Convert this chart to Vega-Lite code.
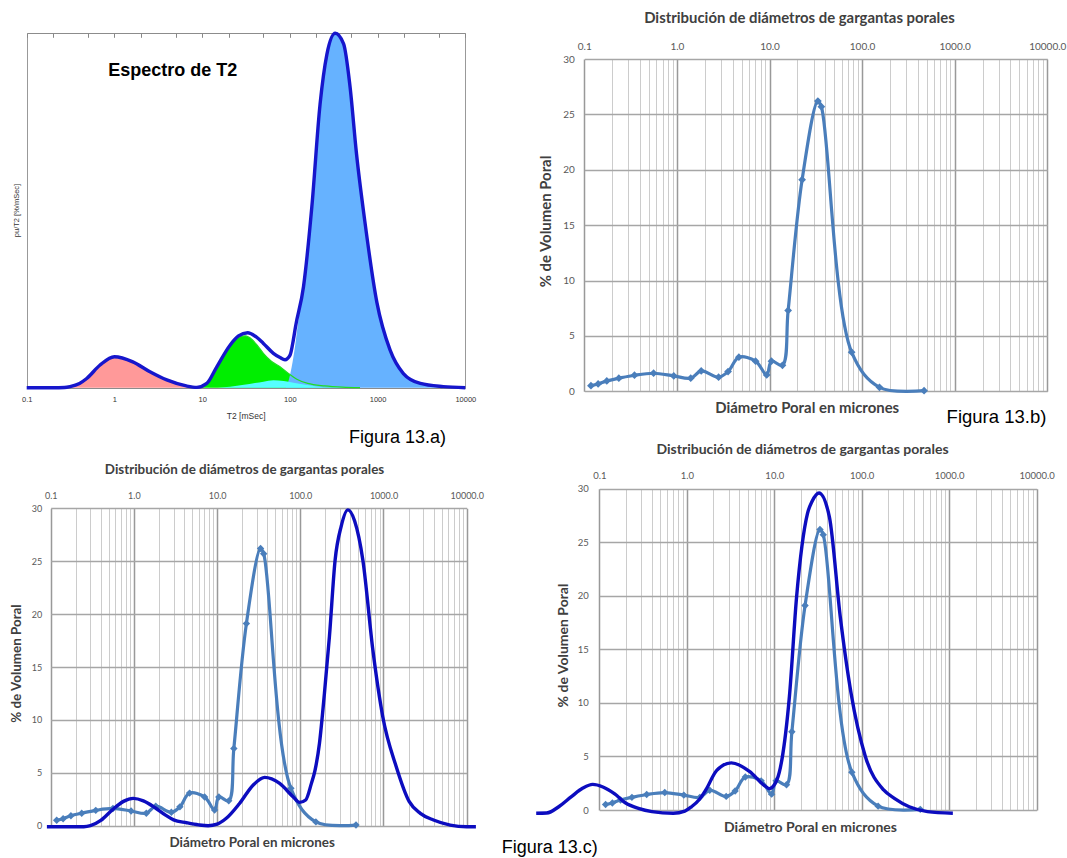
{
"$schema": "https://vega.github.io/schema/vega-lite/v6.json",
"width": 1067, "height": 858, "autosize": "none", "padding": 0,
"background": "#ffffff",
"config": {"view": {"stroke": null}, "font": "Lato"},
"datasets": {
"micp": [{"d":0.118,"v":0.51},{"d":0.141,"v":0.66},{"d":0.175,"v":0.94},{"d":0.236,"v":1.18},{"d":0.348,"v":1.45},{"d":0.56,"v":1.63},{"d":0.925,"v":1.39},{"d":1.41,"v":1.18},{"d":1.83,"v":1.84},{"d":2.82,"v":1.27},{"d":3.57,"v":1.78},{"d":4.67,"v":3.08},{"d":7.08,"v":2.72},{"d":9.33,"v":1.48},{"d":10.5,"v":2.72},{"d":13.8,"v":2.35},{"d":15.9,"v":7.3},{"d":22.5,"v":19.1},{"d":33.3,"v":26.2},{"d":36.3,"v":25.7},{"d":77.1,"v":3.53},{"d":154,"v":0.36},{"d":467,"v":0.06}],
"t2c": [{"d":0.09,"v":-0.1},{"d":0.15,"v":-0.1},{"d":0.25,"v":-0.1},{"d":0.3,"v":0.0},{"d":0.4,"v":0.5},{"d":0.55,"v":1.5},{"d":0.75,"v":2.3},{"d":0.98,"v":2.58},{"d":1.3,"v":2.35},{"d":1.8,"v":1.7},{"d":2.4,"v":1.0},{"d":3.0,"v":0.55},{"d":4.3,"v":0.28},{"d":6.0,"v":0.08},{"d":7.8,"v":0.0},{"d":10,"v":0.15},{"d":12.9,"v":0.7},{"d":18.6,"v":2.1},{"d":27.2,"v":3.85},{"d":37.3,"v":4.57},{"d":56.5,"v":4.0},{"d":81.7,"v":2.74},{"d":98,"v":2.2},{"d":116,"v":2.43},{"d":136,"v":4.0},{"d":150,"v":5.2},{"d":170,"v":7.8},{"d":195,"v":12.5},{"d":224,"v":17.9},{"d":262,"v":25.1},{"d":310,"v":28.3},{"d":373,"v":29.85},{"d":450,"v":28.8},{"d":565,"v":25.1},{"d":745,"v":16.6},{"d":980,"v":10.3},{"d":1420,"v":5.6},{"d":2040,"v":2.27},{"d":2770,"v":1.17},{"d":3990,"v":0.54},{"d":6330,"v":0.06},{"d":10000,"v":-0.1},{"d":12900,"v":-0.1}],
"t2d": [{"d":0.019,"v":-0.3},{"d":0.025,"v":-0.28},{"d":0.035,"v":0.35},{"d":0.048,"v":1.25},{"d":0.065,"v":2.05},{"d":0.084,"v":2.39},{"d":0.11,"v":2.15},{"d":0.15,"v":1.5},{"d":0.2,"v":0.65},{"d":0.28,"v":0.15},{"d":0.4,"v":-0.15},{"d":0.7,"v":-0.3},{"d":0.95,"v":-0.1},{"d":1.13,"v":0.3},{"d":1.4,"v":1.0},{"d":1.65,"v":1.87},{"d":2.2,"v":3.7},{"d":3.23,"v":4.4},{"d":5.2,"v":3.6},{"d":7.6,"v":2.33},{"d":8.8,"v":2.0},{"d":10.7,"v":2.8},{"d":12.2,"v":4.66},{"d":14.9,"v":10.6},{"d":18.0,"v":19.9},{"d":24,"v":27.7},{"d":27,"v":28.8},{"d":32.5,"v":29.6},{"d":42.6,"v":27.4},{"d":56.9,"v":18.0},{"d":75.5,"v":10.9},{"d":110,"v":5.0},{"d":178,"v":1.87},{"d":236,"v":1.09},{"d":349,"v":0.3},{"d":564,"v":-0.15},{"d":1100,"v":-0.3}],
"t2total": [{"t":0.1,"a":0},{"t":0.2,"a":0},{"t":0.27,"a":0.05},{"t":0.312,"a":0.3},{"t":0.4,"a":1.2},{"t":0.483,"a":2.6},{"t":0.686,"a":6.4},{"t":1.0,"a":8.75},{"t":1.62,"a":7.3},{"t":2.54,"a":4.5},{"t":3.95,"a":2.2},{"t":6.6,"a":0.5},{"t":8.7,"a":0.1},{"t":11.3,"a":1.2},{"t":14.7,"a":5.9},{"t":20.8,"a":12.0},{"t":26,"a":14.6},{"t":33,"a":15.5},{"t":41,"a":14.4},{"t":49.9,"a":12.5},{"t":64.9,"a":9.7},{"t":77.3,"a":8.5},{"t":88,"a":7.9},{"t":100.5,"a":9.2},{"t":109.6,"a":13.5},{"t":116,"a":17.2},{"t":143,"a":28.5},{"t":178,"a":51},{"t":221,"a":80},{"t":264,"a":94},{"t":329,"a":100},{"t":410,"a":97},{"t":485,"a":85},{"t":575,"a":66},{"t":715,"a":47},{"t":983,"a":24},{"t":1390,"a":10.6},{"t":1970,"a":4.0},{"t":3070,"a":1.2},{"t":5600,"a":0.3},{"t":10000,"a":0}],
"t2pink": [{"t":0.25,"a":0},{"t":0.27,"a":0.05},{"t":0.312,"a":0.3},{"t":0.4,"a":1.2},{"t":0.483,"a":2.6},{"t":0.686,"a":6.4},{"t":1.0,"a":8.75},{"t":1.62,"a":7.3},{"t":2.54,"a":4.5},{"t":3.95,"a":2.2},{"t":6.6,"a":0.5},{"t":8.7,"a":0.1},{"t":9.5,"a":0}],
"t2green": [{"t":8.7,"a":0.05},{"t":11.3,"a":1.2},{"t":14.7,"a":5.9},{"t":20.8,"a":12.0},{"t":26,"a":14.2},{"t":31,"a":14.6},{"t":37,"a":13.6},{"t":43,"a":11.8},{"t":49.9,"a":9.7},{"t":62,"a":7.4},{"t":77.3,"a":5.9},{"t":95.5,"a":4.1},{"t":120,"a":2.4},{"t":160,"a":1.2},{"t":250,"a":0.5},{"t":400,"a":0.15},{"t":630,"a":0}],
"t2cyan": [{"t":15,"a":0},{"t":20.8,"a":0.3},{"t":30,"a":0.8},{"t":40,"a":1.3},{"t":50,"a":1.7},{"t":65,"a":2.1},{"t":85,"a":1.9},{"t":110,"a":1.4},{"t":150,"a":0.8},{"t":200,"a":0.35},{"t":290,"a":0.05},{"t":400,"a":0}],
"t2blue": [{"t":90,"a":0},{"t":96,"a":1.7},{"t":105,"a":5.9},{"t":114.5,"a":11.6},{"t":125,"a":19.1},{"t":135,"a":24.8},{"t":143,"a":28.5},{"t":178,"a":51},{"t":221,"a":80},{"t":264,"a":94},{"t":329,"a":100},{"t":410,"a":97},{"t":485,"a":85},{"t":575,"a":66},{"t":715,"a":47},{"t":983,"a":24},{"t":1390,"a":10.6},{"t":1970,"a":4.0},{"t":3070,"a":1.2},{"t":5600,"a":0.3},{"t":10000,"a":0}]
},
"layer": [
{
"layer": [
{"data": {"name": "t2pink"}, "mark": {"type": "area", "interpolate": "monotone", "color": "#ff9999"},
 "encoding": {
  "x": {"field": "t", "type": "quantitative", "scale": {"type": "log", "domain": [0.1, 10000], "range": [26.7, 465.3], "nice": false},
   "axis": {"orient": "top", "offset": -33.3, "values": [0.1,0.2,0.5,1,2,5,10,20,50,100,200,500,1000,2000,5000,10000], "labels": false, "domain": false, "ticks": true, "tickSize": -4, "tickColor": "#888888", "grid": true, "gridColor": "#999999", "gridOpacity": {"condition": {"test": "datum.value < 0.11 || datum.value > 9000", "value": 1}, "value": 0}, "title": null}},
  "y": {"field": "a", "type": "quantitative", "scale": {"domain": [0, 100], "range": [387.7, 33.3], "nice": false, "zero": false},
   "axis": {"orient": "left", "offset": -26.7, "values": [0, 100], "labels": false, "ticks": false, "domain": false, "grid": true, "gridColor": "#8c8c8c", "title": "pu/T2 [%/mSec]", "titleFont": "Liberation Sans", "titleFontSize": 7.5, "titleFontWeight": "normal", "titleColor": "#333333", "titleX": -10, "titleY": 210, "titleAngle": -90, "titleAlign": "center", "titleBaseline": "middle"}}
 }},
{"data": {"name": "t2green"}, "mark": {"type": "area", "interpolate": "monotone", "color": "#00ee00"},
 "encoding": {
  "x": {"field": "t", "type": "quantitative", "scale": {"type": "log", "domain": [0.1, 10000], "range": [26.7, 465.3], "nice": false},
   "axis": {"orient": "bottom", "offset": -470.3, "values": [0.1,1,10,100,1000,10000], "labelExpr": "datum.value < 1 ? '0.1' : format(datum.value, 'd')", "labelFont": "Liberation Sans", "labelFontSize": 7.5, "labelColor": "#333333", "labelPadding": 8, "labelFlush": false, "labelOverlap": false, "ticks": false, "domain": false, "grid": false, "title": "T2 [mSec]", "titleFont": "Liberation Sans", "titleFontSize": 8.5, "titleFontWeight": "normal", "titleColor": "#333333", "titleX": 245.7, "titleY": 28, "titleAlign": "center", "titleBaseline": "middle"}},
  "y": {"field": "a", "type": "quantitative", "scale": {"domain": [0, 100], "range": [387.7, 33.3], "nice": false, "zero": false}, "axis": null}
 }},
{"data": {"name": "t2blue"}, "mark": {"type": "area", "interpolate": "monotone", "color": "#66b2ff"},
 "encoding": {
  "x": {"field": "t", "type": "quantitative", "scale": {"type": "log", "domain": [0.1, 10000], "range": [26.7, 465.3], "nice": false}, "axis": null},
  "y": {"field": "a", "type": "quantitative", "scale": {"domain": [0, 100], "range": [387.7, 33.3], "nice": false, "zero": false}, "axis": null}
 }},
{"data": {"name": "t2green"}, "mark": {"type": "line", "interpolate": "monotone", "color": "#22dd22", "strokeWidth": 1.2},
 "encoding": {
  "x": {"field": "t", "type": "quantitative", "scale": {"type": "log", "domain": [0.1, 10000], "range": [26.7, 465.3], "nice": false}, "axis": null},
  "y": {"field": "a", "type": "quantitative", "scale": {"domain": [0, 100], "range": [387.7, 33.3], "nice": false, "zero": false}, "axis": null}
 }},
{"data": {"name": "t2cyan"}, "mark": {"type": "area", "interpolate": "monotone", "color": "#55ffff"},
 "encoding": {
  "x": {"field": "t", "type": "quantitative", "scale": {"type": "log", "domain": [0.1, 10000], "range": [26.7, 465.3], "nice": false}, "axis": null},
  "y": {"field": "a", "type": "quantitative", "scale": {"domain": [0, 100], "range": [387.7, 33.3], "nice": false, "zero": false}, "axis": null}
 }},
{"data": {"name": "t2total"}, "mark": {"type": "line", "interpolate": "monotone", "color": "#1616cc", "strokeWidth": 3.4},
 "encoding": {
  "x": {"field": "t", "type": "quantitative", "scale": {"type": "log", "domain": [0.1, 10000], "range": [26.7, 465.3], "nice": false}, "axis": null},
  "y": {"field": "a", "type": "quantitative", "scale": {"domain": [0, 100], "range": [387.7, 33.3], "nice": false, "zero": false}, "axis": null}
 }},
{"data": {"values": [{}]}, "mark": {"type": "text", "text": "Espectro de T2", "font": "Liberation Sans", "fontSize": 18, "fontWeight": "bold", "color": "#000000", "align": "center", "baseline": "middle"},
 "encoding": {
  "x": {"datum": 4.62, "type": "quantitative", "scale": {"type": "log", "domain": [0.1, 10000], "range": [26.7, 465.3], "nice": false}, "axis": null},
  "y": {"datum": 89.4, "type": "quantitative", "scale": {"domain": [0, 100], "range": [387.7, 33.3], "nice": false, "zero": false}, "axis": null}
 }},
{"data": {"values": [{}]}, "mark": {"type": "text", "text": "Figura 13.a)", "font": "Liberation Sans", "fontSize": 18, "color": "#000000", "align": "center", "baseline": "middle"},
 "encoding": {
  "x": {"datum": 1690, "type": "quantitative", "scale": {"type": "log", "domain": [0.1, 10000], "range": [26.7, 465.3], "nice": false}, "axis": null},
  "y": {"datum": -14.3, "type": "quantitative", "scale": {"domain": [0, 100], "range": [387.7, 33.3], "nice": false, "zero": false}, "axis": null}
 }}
],
"resolve": {"axis": {"x": "independent", "y": "independent"}}
},
{
"layer": [
{"data": {"name": "micp"}, "mark": {"type": "line", "interpolate": "catmull-rom", "color": "#4a7ebb", "strokeWidth": 3.2},
 "encoding": {
  "x": {"field": "d", "type": "quantitative", "scale": {"type": "log", "domain": [0.1, 10000], "range": [584.3, 1047.3], "nice": false},
   "axis": {"orient": "top", "offset": -59, "values": [0.1,0.2,0.3,0.4,0.5,0.6,0.7,0.8,0.9,1,2,3,4,5,6,7,8,9,10,20,30,40,50,60,70,80,90,100,200,300,400,500,600,700,800,900,1000,2000,3000,4000,5000,6000,7000,8000,9000,10000], "grid": true, "gridColor": {"condition": {"test": "abs(log(datum.value)/LN10 - round(log(datum.value)/LN10)) < 0.01", "value": "#999999"}, "value": "#cccccc"}, "gridWidth": {"condition": {"test": "abs(log(datum.value)/LN10 - round(log(datum.value)/LN10)) < 0.01", "value": 1.5}, "value": 1}, "ticks": false, "domain": false, "labelExpr": "abs(log(datum.value)/LN10 - round(log(datum.value)/LN10)) < 0.01 ? format(datum.value, '.1f') : ''", "labelFont": "Lato", "labelFontSize": 10, "labelColor": "#595959", "labelPadding": 8, "labelFlush": false, "labelOverlap": false, "title": "Distribución de diámetros de gargantas porales", "titleFont": "Lato", "titleFontSize": 14.9, "titleFontWeight": "bold", "titleColor": "#404040", "titleX": 799, "titleY": -41, "titleAlign": "center", "titleBaseline": "middle"}},
  "y": {"field": "v", "type": "quantitative", "scale": {"domain": [0, 30], "range": [391.3, 59], "nice": false, "zero": false},
   "axis": {"orient": "left", "offset": -584.3, "values": [0,5,10,15,20,25,30], "grid": true, "gridColor": "#a6a6a6", "gridWidth": 1.4, "ticks": false, "domain": false, "labelFont": "Lato", "labelFontSize": 10, "labelColor": "#595959", "labelPadding": 10, "title": "% de Volumen Poral", "titleFont": "Lato", "titleFontSize": 14.9, "titleFontWeight": "bold", "titleColor": "#404040", "titleX": -38, "titleY": 221, "titleAngle": -90, "titleAlign": "center", "titleBaseline": "middle"}}
 }},
{"data": {"name": "micp"}, "mark": {"type": "point", "shape": "diamond", "filled": true, "size": 60, "color": "#4a7ebb", "opacity": 1},
 "encoding": {
  "x": {"field": "d", "type": "quantitative", "scale": {"type": "log", "domain": [0.1, 10000], "range": [584.3, 1047.3], "nice": false},
   "axis": {"orient": "bottom", "offset": -466.7, "labels": false, "ticks": false, "domain": false, "grid": false, "title": "Diámetro Poral en micrones", "titleFont": "Lato", "titleFontSize": 14.9, "titleFontWeight": "bold", "titleColor": "#404040", "titleX": 806.7, "titleY": 17.4, "titleAlign": "center", "titleBaseline": "middle"}},
  "y": {"field": "v", "type": "quantitative", "scale": {"domain": [0, 30], "range": [391.3, 59], "nice": false, "zero": false}, "axis": null}
 }},
{"data": {"values": [{}]}, "mark": {"type": "text", "text": "Figura 13.b)", "font": "Liberation Sans", "fontSize": 18.5, "color": "#000000", "align": "center", "baseline": "middle"},
 "encoding": {
  "x": {"datum": 2826, "type": "quantitative", "scale": {"type": "log", "domain": [0.1, 10000], "range": [584.3, 1047.3], "nice": false}, "axis": null},
  "y": {"datum": -2.32, "type": "quantitative", "scale": {"domain": [0, 30], "range": [391.3, 59], "nice": false, "zero": false}, "axis": null}
 }}
],
"resolve": {"axis": {"x": "independent", "y": "independent"}}
},
{
"layer": [
{"data": {"name": "micp"}, "mark": {"type": "line", "interpolate": "catmull-rom", "color": "#4a7ebb", "strokeWidth": 3.2},
 "encoding": {
  "x": {"field": "d", "type": "quantitative", "scale": {"type": "log", "domain": [0.1, 10000], "range": [50.7, 466.7], "nice": false},
   "axis": {"orient": "top", "offset": -508.3, "values": [0.1,0.2,0.3,0.4,0.5,0.6,0.7,0.8,0.9,1,2,3,4,5,6,7,8,9,10,20,30,40,50,60,70,80,90,100,200,300,400,500,600,700,800,900,1000,2000,3000,4000,5000,6000,7000,8000,9000,10000], "grid": true, "gridColor": {"condition": {"test": "abs(log(datum.value)/LN10 - round(log(datum.value)/LN10)) < 0.01", "value": "#999999"}, "value": "#cccccc"}, "gridWidth": {"condition": {"test": "abs(log(datum.value)/LN10 - round(log(datum.value)/LN10)) < 0.01", "value": 1.5}, "value": 1}, "ticks": false, "domain": false, "labelExpr": "abs(log(datum.value)/LN10 - round(log(datum.value)/LN10)) < 0.01 ? format(datum.value, '.1f') : ''", "labelFont": "Lato", "labelFontSize": 9, "labelColor": "#595959", "labelPadding": 8, "labelFlush": false, "labelOverlap": false, "title": "Distribución de diámetros de gargantas porales", "titleFont": "Lato", "titleFontSize": 13.4, "titleFontWeight": "bold", "titleColor": "#404040", "titleX": 244, "titleY": -39.3, "titleAlign": "center", "titleBaseline": "middle"}},
  "y": {"field": "v", "type": "quantitative", "scale": {"domain": [0, 30], "range": [825.7, 508.3], "nice": false, "zero": false},
   "axis": {"orient": "left", "offset": -50.7, "values": [0,5,10,15,20,25,30], "grid": true, "gridColor": "#a6a6a6", "gridWidth": 1.4, "ticks": false, "domain": false, "labelFont": "Lato", "labelFontSize": 9, "labelColor": "#595959", "labelPadding": 9, "title": "% de Volumen Poral", "titleFont": "Lato", "titleFontSize": 13.4, "titleFontWeight": "bold", "titleColor": "#404040", "titleX": -34, "titleY": 663, "titleAngle": -90, "titleAlign": "center", "titleBaseline": "middle"}}
 }},
{"data": {"name": "micp"}, "mark": {"type": "point", "shape": "diamond", "filled": true, "size": 55, "color": "#4a7ebb", "opacity": 1},
 "encoding": {
  "x": {"field": "d", "type": "quantitative", "scale": {"type": "log", "domain": [0.1, 10000], "range": [50.7, 466.7], "nice": false},
   "axis": {"orient": "bottom", "offset": -32.3, "labels": false, "ticks": false, "domain": false, "grid": false, "title": "Diámetro Poral en micrones", "titleFont": "Lato", "titleFontSize": 13.4, "titleFontWeight": "bold", "titleColor": "#404040", "titleX": 251.7, "titleY": 16.3, "titleAlign": "center", "titleBaseline": "middle"}},
  "y": {"field": "v", "type": "quantitative", "scale": {"domain": [0, 30], "range": [825.7, 508.3], "nice": false, "zero": false}, "axis": null}
 }},
{"data": {"name": "t2c"}, "mark": {"type": "line", "interpolate": "monotone", "color": "#0c0cbf", "strokeWidth": 3.4},
 "encoding": {
  "x": {"field": "d", "type": "quantitative", "scale": {"type": "log", "domain": [0.1, 10000], "range": [50.7, 466.7], "nice": false}, "axis": null},
  "y": {"field": "v", "type": "quantitative", "scale": {"domain": [0, 30], "range": [825.7, 508.3], "nice": false, "zero": false}, "axis": null}
 }}
],
"resolve": {"axis": {"x": "independent", "y": "independent"}}
},
{
"layer": [
{"data": {"name": "micp"}, "mark": {"type": "line", "interpolate": "catmull-rom", "color": "#4a7ebb", "strokeWidth": 3.2},
 "encoding": {
  "x": {"field": "d", "type": "quantitative", "scale": {"type": "log", "domain": [0.1, 10000], "range": [599.3, 1036.7], "nice": false},
   "axis": {"orient": "top", "offset": -488.7, "values": [0.1,0.2,0.3,0.4,0.5,0.6,0.7,0.8,0.9,1,2,3,4,5,6,7,8,9,10,20,30,40,50,60,70,80,90,100,200,300,400,500,600,700,800,900,1000,2000,3000,4000,5000,6000,7000,8000,9000,10000], "grid": true, "gridColor": {"condition": {"test": "abs(log(datum.value)/LN10 - round(log(datum.value)/LN10)) < 0.01", "value": "#999999"}, "value": "#cccccc"}, "gridWidth": {"condition": {"test": "abs(log(datum.value)/LN10 - round(log(datum.value)/LN10)) < 0.01", "value": 1.5}, "value": 1}, "ticks": false, "domain": false, "labelExpr": "abs(log(datum.value)/LN10 - round(log(datum.value)/LN10)) < 0.01 ? format(datum.value, '.1f') : ''", "labelFont": "Lato", "labelFontSize": 9.5, "labelColor": "#595959", "labelPadding": 8, "labelFlush": false, "labelOverlap": false, "title": "Distribución de diámetros de gargantas porales", "titleFont": "Lato", "titleFontSize": 14, "titleFontWeight": "bold", "titleColor": "#404040", "titleX": 802, "titleY": -39.7, "titleAlign": "center", "titleBaseline": "middle"}},
  "y": {"field": "v", "type": "quantitative", "scale": {"domain": [0, 30], "range": [810, 488.7], "nice": false, "zero": false},
   "axis": {"orient": "left", "offset": -599.3, "values": [0,5,10,15,20,25,30], "grid": true, "gridColor": "#a6a6a6", "gridWidth": 1.4, "ticks": false, "domain": false, "labelFont": "Lato", "labelFontSize": 9.5, "labelColor": "#595959", "labelPadding": 11, "title": "% de Volumen Poral", "titleFont": "Lato", "titleFontSize": 14, "titleFontWeight": "bold", "titleColor": "#404040", "titleX": -36, "titleY": 645, "titleAngle": -90, "titleAlign": "center", "titleBaseline": "middle"}}
 }},
{"data": {"name": "micp"}, "mark": {"type": "point", "shape": "diamond", "filled": true, "size": 55, "color": "#4a7ebb", "opacity": 1},
 "encoding": {
  "x": {"field": "d", "type": "quantitative", "scale": {"type": "log", "domain": [0.1, 10000], "range": [599.3, 1036.7], "nice": false},
   "axis": {"orient": "bottom", "offset": -48, "labels": false, "ticks": false, "domain": false, "grid": false, "title": "Diámetro Poral en micrones", "titleFont": "Lato", "titleFontSize": 14, "titleFontWeight": "bold", "titleColor": "#404040", "titleX": 810, "titleY": 17.3, "titleAlign": "center", "titleBaseline": "middle"}},
  "y": {"field": "v", "type": "quantitative", "scale": {"domain": [0, 30], "range": [810, 488.7], "nice": false, "zero": false}, "axis": null}
 }},
{"data": {"name": "t2d"}, "mark": {"type": "line", "interpolate": "monotone", "color": "#0c0cbf", "strokeWidth": 3.4},
 "encoding": {
  "x": {"field": "d", "type": "quantitative", "scale": {"type": "log", "domain": [0.1, 10000], "range": [599.3, 1036.7], "nice": false}, "axis": null},
  "y": {"field": "v", "type": "quantitative", "scale": {"domain": [0, 30], "range": [810, 488.7], "nice": false, "zero": false}, "axis": null}
 }},
{"data": {"values": [{}]}, "mark": {"type": "text", "text": "Figura 13.c)", "font": "Liberation Sans", "fontSize": 18, "color": "#000000", "align": "center", "baseline": "middle"},
 "encoding": {
  "x": {"datum": 0.0271, "type": "quantitative", "scale": {"type": "log", "domain": [0.1, 10000], "range": [599.3, 1036.7], "nice": false}, "axis": null},
  "y": {"datum": -3.58, "type": "quantitative", "scale": {"domain": [0, 30], "range": [810, 488.7], "nice": false, "zero": false}, "axis": null}
 }}
],
"resolve": {"axis": {"x": "independent", "y": "independent"}}
}
],
"resolve": {"scale": {"x": "independent", "y": "independent"}, "axis": {"x": "independent", "y": "independent"}}
}
